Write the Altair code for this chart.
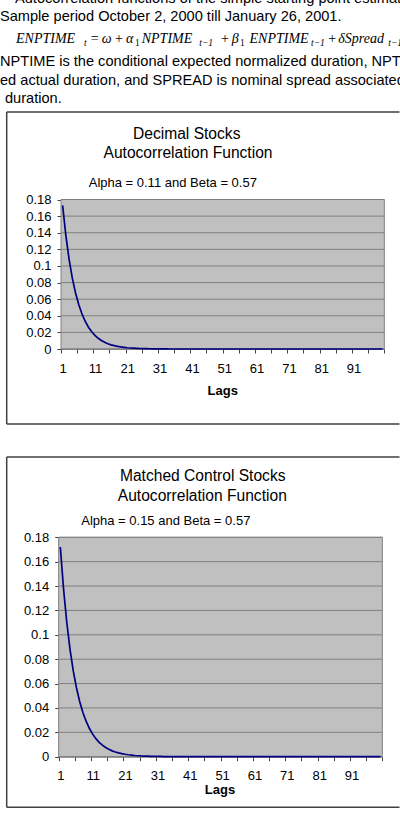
import altair as alt
import pandas as pd

# ---------------- data ----------------
lags = list(range(1, 101))
decimal_acf = [0.173, 0.1367, 0.108, 0.0853, 0.0674, 0.0532, 0.0421, 0.0332, 0.0262, 0.0207,
               0.0164, 0.0129, 0.0102, 0.0081, 0.0064, 0.0050, 0.0040, 0.0032, 0.0025, 0.0020,
               0.0015, 0.0012, 0.0010, 0.0008, 0.0006, 0.0005, 0.0004, 0.0003, 0.0002, 0.0002,
               0.0001, 0.0001, 0.0001] + [0.0] * 67
control_acf = [0.172, 0.1376, 0.1101, 0.0881, 0.0704, 0.0564, 0.0451, 0.0361, 0.0289, 0.0231,
               0.0185, 0.0148, 0.0118, 0.0095, 0.0076, 0.0061, 0.0048, 0.0039, 0.0031, 0.0025,
               0.0020, 0.0016, 0.0013, 0.0010, 0.0008, 0.0006, 0.0005, 0.0004, 0.0003, 0.0003,
               0.0002, 0.0002, 0.0001, 0.0001, 0.0001] + [0.0] * 65
y_ticks = [0, 0.02, 0.04, 0.06, 0.08, 0.1, 0.12, 0.14, 0.16, 0.18]
x_tick_bounds = [0.5, 5.5, 10.5, 15.5, 20.5, 25.5, 30.5, 35.5, 40.5, 45.5, 50.5,
                 55.5, 60.5, 65.5, 70.5, 75.5, 80.5, 85.5, 90.5, 95.5, 100.5]

header_lines = [
    "Autocorrelation functions of the simple starting point estimates",
    "Sample period October 2, 2000 till January 26, 2001.",
    "NPTIME is the conditional expected normalized duration, NPTIME is the",
    "ed actual duration, and SPREAD is nominal spread associated with the",
    "duration.",
]
titles1 = ["Decimal Stocks", "Autocorrelation Function", "Alpha = 0.11 and Beta = 0.57"]
titles2 = ["Matched Control Stocks", "Autocorrelation Function", "Alpha = 0.15 and Beta = 0.57"]

W, H = 400, 818
SANS = "Liberation Sans"
SERIF = "Liberation Serif"
ONE = alt.InlineData(values=[{"k": 0}])


def txt(s, x, y, size, font=SANS, align="left", style="normal", weight="normal", clip=True):
    return alt.Chart(ONE).mark_text(
        text=s, align=align, baseline="alphabetic", font=font, fontSize=size,
        fontStyle=style, fontWeight=weight, color="black", clip=clip
    ).encode(x=alt.value(x), y=alt.value(y))


def rule(x, y, x2=None, y2=None, color="#404040", width=1.5):
    enc = dict(x=alt.value(x), y=alt.value(y))
    if x2 is not None:
        enc["x2"] = alt.value(x2)
    if y2 is not None:
        enc["y2"] = alt.value(y2)
    return alt.Chart(ONE).mark_rule(color=color, strokeWidth=width).encode(**enc)


# ---------------- header (document text) ----------------
HS = 14.6
FY, SY = 42.7, 46.0
FS, SS = 14, 9.5
header_layers = [
    txt(header_lines[0], 15, 2.5, HS),
    txt(header_lines[1], 0, 20.5, HS),
    txt("ENPTIME", 16, FY, FS, SERIF, style="italic"),
    txt("t", 84, SY, SS, SERIF, style="italic"),
    txt("=", 90.7, FY, FS, SERIF),
    txt("ω", 101.7, FY, FS, SERIF, style="italic"),
    txt("+", 115, FY, FS, SERIF),
    txt("α", 126, FY, FS, SERIF, style="italic"),
    txt("1", 135, SY, SS, SERIF),
    txt("NPTIME", 141.7, FY, FS, SERIF, style="italic"),
    txt("t−1", 199.3, SY, SS, SERIF, style="italic"),
    txt("+", 221, FY, FS, SERIF),
    txt("β", 231.7, FY, FS, SERIF, style="italic"),
    txt("1", 240, SY, SS, SERIF),
    txt("ENPTIME", 249.5, FY, FS, SERIF, style="italic"),
    txt("t−1", 311, SY, SS, SERIF, style="italic"),
    txt("+", 328.3, FY, FS, SERIF),
    txt("δSpread", 338.3, FY, FS, SERIF, style="italic"),
    txt("t−1", 388.3, SY, SS, SERIF, style="italic"),
    txt(header_lines[2], 0, 66, HS),
    txt(header_lines[3], 0, 84.7, HS),
    txt(header_lines[4], 5, 103, HS),
]


# ---------------- panels ----------------
def panel(values, texts, g):
    left, right, top, bottom = g["left"], g["right"], g["top"], g["bottom"]
    bin_w = (right - left) / 100.0
    df = pd.DataFrame({"lag": lags, "acf": values})
    grid_df = pd.DataFrame({"acf": y_ticks})

    xscale = alt.Scale(domain=[0.5, 100.5], range=[left, right], nice=False, zero=False)
    yscale = alt.Scale(domain=[0, 0.18], range=[bottom, top], nice=False, zero=False)

    xaxis = alt.Axis(
        orient="bottom", offset=bottom - H,
        values=x_tick_bounds,
        labelExpr="(datum.value - 0.5) % 10 === 0 && datum.value < 100 ? format(datum.value + 0.5, 'd') : ''",
        labelOffset=bin_w / 2.0, labelFlush=False, labelOverlap=False, labelAngle=0,
        tickSize=4, tickColor="#404040", domainColor="#808080", domainWidth=1,
        labelFont=SANS, labelFontSize=13, labelColor="black", labelPadding=9,
        grid=False, title=None,
    )
    yaxis = alt.Axis(
        orient="left", offset=-left,
        values=y_ticks, format=".2~f",
        labelFlush=False, labelOverlap=False,
        tickSize=4, tickColor="#404040", domainColor="#808080", domainWidth=1,
        labelFont=SANS, labelFontSize=13, labelColor="black", labelPadding=6,
        grid=False, title=None,
    )

    plot_bg = alt.Chart(ONE).mark_rect(fill="#C0C0C0", stroke="#808080", strokeWidth=1).encode(
        x=alt.value(left), x2=alt.value(right), y=alt.value(top), y2=alt.value(bottom))

    grid = alt.Chart(grid_df).mark_rule(color="#808080", strokeWidth=1).encode(
        x=alt.value(left), x2=alt.value(right),
        y=alt.Y("acf:Q", scale=yscale, axis=yaxis),
    )

    line = alt.Chart(df).mark_line(color="#000080", strokeWidth=1.7).encode(
        x=alt.X("lag:Q", scale=xscale, axis=xaxis),
        y=alt.Y("acf:Q", scale=yscale, axis=yaxis),
    )

    bl, br = 6.7, 399.5
    box = [
        rule(bl, g["box_top"], x2=br),
        rule(bl, g["box_bottom"], x2=br),
        rule(bl, g["box_top"], y2=g["box_bottom"]),
    ]

    t1 = txt(texts[0], g["t1"][0], g["t1"][1], 15.6, align="center")
    t2 = txt(texts[1], g["t2"][0], g["t2"][1], 15.6, align="center")
    st = txt(texts[2], g["sub"][0], g["sub"][1], 13, align="center")
    lg = txt("Lags", g["lags"][0], g["lags"][1], 13, align="center", weight="bold")

    return alt.layer(plot_bg, grid, line, *box, t1, t2, st, lg)


g1 = dict(left=61, right=384.3, top=199.5, bottom=349,
          box_top=112, box_bottom=424, t1=(186.7, 139.3), t2=(188, 158.3),
          sub=(172.8, 187.3), lags=(222.7, 395))
g2 = dict(left=58.7, right=382.3, top=537.3, bottom=756.7,
          box_top=457, box_bottom=807.3, t1=(202.7, 481.3), t2=(202.3, 501.3),
          sub=(165.8, 525), lags=(220, 794))

p1 = panel(decimal_acf, titles1, g1)
p2 = panel(control_acf, titles2, g2)

chart = alt.layer(*header_layers, p1, p2).resolve_scale(
    x="independent", y="independent"
).resolve_axis(
    x="independent", y="independent"
).properties(
    width=W, height=H, padding=0,
    autosize=alt.AutoSizeParams(type="none"),
    background="white",
    view=alt.ViewBackground(fill="white", stroke="transparent"),
)

chart.save("out.html", embed_options={"renderer": "svg", "actions": False})
